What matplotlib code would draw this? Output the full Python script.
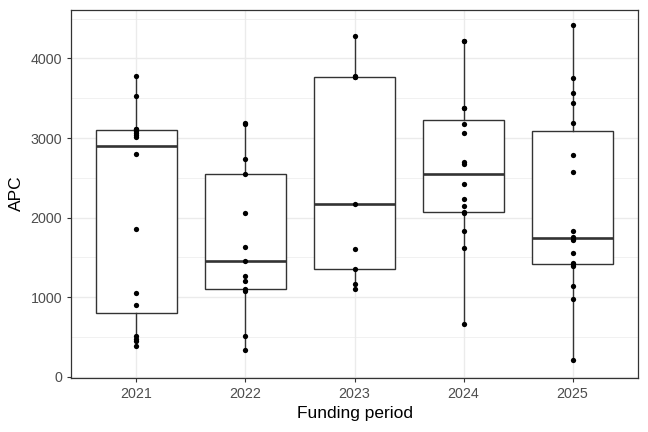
import numpy as np
import matplotlib
matplotlib.use('Agg')
import matplotlib.pyplot as plt
from matplotlib.ticker import MultipleLocator

# APC values per funding period
periods = ['2021', '2022', '2023', '2024', '2025']
apc_2021 = [390, 450, 475, 510, 905, 1060, 1855, 2800, 3010, 3040, 3065, 3095, 3110, 3120, 3525, 3780]
apc_2022 = [335, 515, 1079, 1101, 1205, 1268, 1456, 1628, 2058, 2553, 2732, 3171, 3193]
apc_2023 = [1109, 1163, 1360, 1603, 2167, 3765, 3770, 3775, 4280]
apc_2024 = [661, 1620, 1832, 2065, 2075, 2146, 2230, 2418, 2670, 2700, 3058, 3171, 3381, 3381, 4217, 4217]
apc_2025 = [210, 984, 1142, 1393, 1414, 1436, 1552, 1719, 1737, 1757, 1832, 2569, 2786, 3193, 3443, 3560, 3757, 4426]

groups = [apc_2021, apc_2022, apc_2023, apc_2024, apc_2025]
positions = np.arange(1, len(periods) + 1)

plt.rcParams['font.family'] = ['Liberation Sans', 'DejaVu Sans']

fig = plt.figure(figsize=(6.48, 4.32), dpi=100)
ax = fig.add_axes([0.1096, 0.1257, 0.8750, 0.8523])

# ggplot theme_bw look
dark = '#333333'
ax.set_axisbelow(True)
ax.yaxis.set_major_locator(MultipleLocator(1000))
ax.yaxis.set_minor_locator(MultipleLocator(500))
ax.grid(True, which='major', color='#EBEBEB', linewidth=1.0)
ax.grid(True, which='minor', axis='y', color='#EBEBEB', linewidth=0.5)
for spine in ax.spines.values():
    spine.set_color(dark)
    spine.set_linewidth(0.9)

# boxes, whiskers without caps, no fliers (points drawn separately)
ax.boxplot(groups, positions=positions, widths=0.75, patch_artist=True,
           showcaps=False, showfliers=False,
           boxprops=dict(facecolor='white', edgecolor=dark, linewidth=1.0),
           whiskerprops=dict(color=dark, linewidth=1.0),
           medianprops=dict(color=dark, linewidth=1.9),
           zorder=2)

# raw points
for pos, vals in zip(positions, groups):
    ax.plot(np.full(len(vals), pos), vals, 'o', color='black',
            markersize=3.8, markeredgewidth=0, zorder=3)

ax.set_xlim(0.4, 5.6)
ax.set_ylim(-10, 4615)
ax.set_xticks(positions)
ax.set_xticklabels(periods)
ax.set_yticks([0, 1000, 2000, 3000, 4000])

ax.tick_params(axis='both', which='major', colors=dark, length=2.9, width=0.8,
               labelsize=10.3, labelcolor='#4D4D4D', pad=3.5)
ax.tick_params(axis='both', which='minor', length=0)

ax.set_xlabel('Funding period', fontsize=12.5, labelpad=4)
ax.set_ylabel('APC', fontsize=12.5, labelpad=5)

fig.savefig('out.png', dpi=100)
